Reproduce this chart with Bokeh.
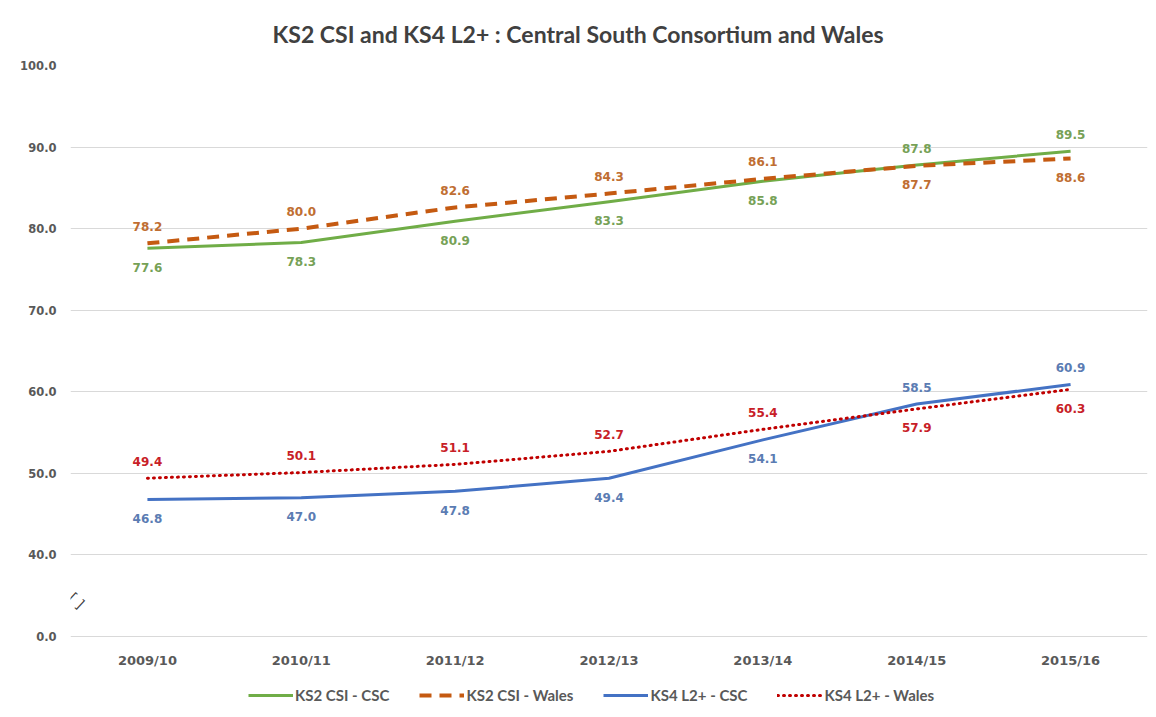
from bokeh.plotting import figure
from bokeh.models import ColumnDataSource, FactorRange, FixedTicker, Legend, LegendItem, Label, Range1d
from bokeh.core.properties import value
from bokeh.embed import file_html
from bokeh.resources import INLINE

# ---- data ----
years = ["2009/10", "2010/11", "2011/12", "2012/13", "2013/14", "2014/15", "2015/16"]
ks2_csc = [77.6, 78.3, 80.9, 83.3, 85.8, 87.8, 89.5]
ks2_wales = [78.2, 80.0, 82.6, 84.3, 86.1, 87.7, 88.6]
ks4_csc = [46.8, 47.0, 47.8, 49.4, 54.1, 58.5, 60.9]
ks4_wales = [49.4, 50.1, 51.1, 52.7, 55.4, 57.9, 60.3]
series_names = ["KS2 CSI - CSC", "KS2 CSI - Wales", "KS4 L2+ - CSC", "KS4 L2+ - Wales"]
# broken axis: the bottom gridline stands for 0.0
y_ticks = [30, 40, 50, 60, 70, 80, 90, 100]
y_tick_labels = ["0.0", "40.0", "50.0", "60.0", "70.0", "80.0", "90.0", "100.0"]
title_text = "KS2 CSI and KS4 L2+ : Central South Consortium and Wales"

# ---- styles / layout ----
line_colors = ["#70AD47", "#C55A11", "#4472C4", "#C00000"]
label_colors = ["#76A156", "#BF6E32", "#5B7CB3", "#C81E28"]
dashes = ["solid", "12 8", "solid", "1 5"]
widths = [3, 4, 3, 3]
caps = ["butt", "butt", "butt", "round"]
ABOVE, BELOW = -17, 19
W, H = 1150, 714
FRAME_TOP, AXIS_Y = 65, 636           # pixel rows of the 100 and the 0.0 gridlines
px_per_unit = (AXIS_Y - FRAME_TOP) / (y_ticks[-1] - y_ticks[0])
y_start = y_ticks[0] - (H - AXIS_Y) / px_per_unit

p = figure(x_range=FactorRange(*years, range_padding=0), y_range=Range1d(y_start, y_ticks[-1]),
           width=W, height=H, output_backend="svg", toolbar_location=None,
           min_border_left=70, min_border_right=3, min_border_top=FRAME_TOP, min_border_bottom=0,
           background_fill_color="white", border_fill_color="white")
p.outline_line_color = None

p.title.text = title_text
p.title.align = "left"
p.title.offset = 202
p.title.text_font = "Lato"
p.title.text_font_size = "23px"
p.title.text_font_style = "bold"
p.title.text_color = "#404040"
p.title.standoff = 35

p.xgrid.grid_line_color = None
p.ygrid.grid_line_color = "#D9D9D9"
p.ygrid.grid_line_width = 1
p.xaxis.visible = False

p.yaxis.ticker = FixedTicker(ticks=y_ticks)
p.yaxis.major_label_overrides = {t: l for t, l in zip(y_ticks, y_tick_labels)}
ax = p.yaxis[0]
ax.axis_line_color = None
ax.major_tick_line_color = None
ax.minor_tick_line_color = None
ax.major_label_text_font = "DejaVu Sans"
ax.major_label_text_font_style = "bold"
ax.major_label_text_color = "#595959"
ax.major_label_text_font_size = "11.5px"
ax.major_label_standoff = 8

# category labels under the 0.0 baseline
p.text(x=years, y=[y_ticks[0]] * len(years), text=years, y_offset=24,
       text_font=value("DejaVu Sans"), text_font_style="bold", text_font_size="13px",
       text_color="#595959", text_align="center", text_baseline="middle")

all_series = [ks2_csc, ks2_wales, ks4_csc, ks4_wales]
pairs = {0: 1, 1: 0, 2: 3, 3: 2}
renderers = []
for i, vals in enumerate(all_series):
    src = ColumnDataSource(dict(x=years, y=vals))
    r = p.line("x", "y", source=src, line_color=line_colors[i], line_width=widths[i],
               line_dash=dashes[i], line_cap=caps[i], line_join="round")
    renderers.append(r)

for i, vals in enumerate(all_series):
    other = all_series[pairs[i]]
    offs = [ABOVE if v > o else BELOW for v, o in zip(vals, other)]
    src = ColumnDataSource(dict(x=years, y=vals, t=[f"{v:.1f}" for v in vals], off=offs))
    p.text("x", "y", text="t", source=src, y_offset="off",
           text_font=value("DejaVu Sans"), text_font_style="bold", text_font_size="12px",
           text_color=label_colors[i], text_align="center", text_baseline="middle")

legend = Legend(items=[LegendItem(label=n, renderers=[r]) for n, r in zip(series_names, renderers)],
                orientation="horizontal", location=(178, 9),
                background_fill_alpha=0, border_line_color=None,
                label_text_font="Lato", label_text_font_style="bold", label_text_font_size="15px",
                label_text_color="#595959", glyph_width=45, label_standoff=2, spacing=30,
                padding=0, margin=0)
p.add_layout(legend, "center")

brk = Label(x=0.04, y=34.4, text="[ ]", angle=-0.75, text_font="DejaVu Sans",
            text_font_size="14px", text_color="#404040", text_align="center",
            text_baseline="middle")
p.add_layout(brk)

open("out.html", "w").write(file_html(p, INLINE))
